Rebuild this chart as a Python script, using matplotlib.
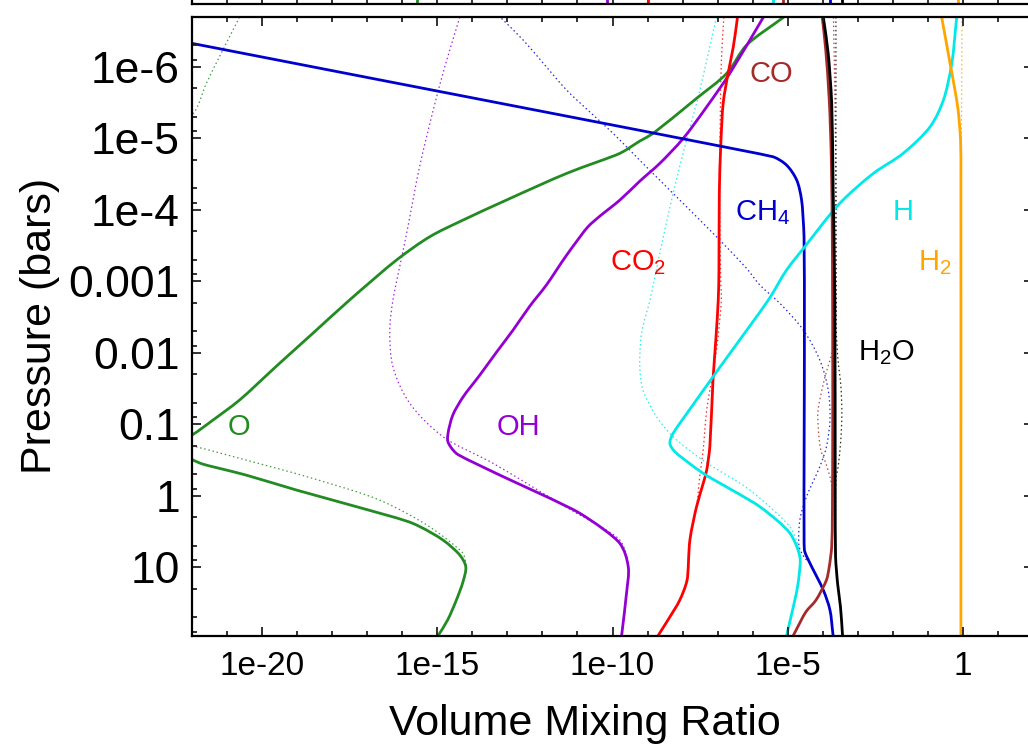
import numpy as np
import matplotlib
matplotlib.use('Agg')
import matplotlib.pyplot as plt
from matplotlib.ticker import FixedLocator, NullFormatter, FixedFormatter
from matplotlib.path import Path
from matplotlib.patches import PathPatch

plt.rcParams['font.family'] = ['Liberation Sans', 'DejaVu Sans']
plt.rcParams['mathtext.default'] = 'regular'

# ---------------- data (log10 pressure [bar], log10 volume mixing ratio) -------------
o_logp = [-6.693, -6.302, -5.906, -5.557, -5.067, -4.960, -4.788, -4.508, -4.135, -3.855,
          -3.622, -3.296, -2.737, -2.271, -1.852, -1.339, -1.059, -0.849, -0.70, -0.509,
          -0.443, -0.289, -0.081, 0.177, 0.386, 0.619, 0.829, 0.992, 1.203, 1.459, 1.738, 1.962]
o_logvmr = [-5.11, -6.17, -6.74, -7.60, -8.84, -9.22, -9.79, -11.31, -13.03, -14.27,
            -15.22, -16.17, -17.51, -18.56, -19.51, -20.65, -21.41, -22.01, -22.6, -22.01,
            -21.70, -20.46, -19.03, -17.13, -15.70, -14.84, -14.36, -14.19, -14.27, -14.46, -14.71, -14.99]
o_eq_logp = [-6.693, -6.232, -5.766, -5.323, -4.5, -1.0, -0.699, -0.499, -0.243, 0.060, 0.434,
             0.805, 0.992, 1.203, 1.459, 1.738, 1.962]
o_eq_logvmr = [-20.65, -21.13, -21.60, -22.01, -25.0, -25.0, -22.01, -20.46, -18.56, -16.65, -15.22,
               -14.27, -14.19, -14.27, -14.46, -14.71, -14.99]

oh_logp = [-6.693, -5.906, -5.439, -4.997, -4.648, -4.400, -4.135, -3.911, -3.757, -3.365, -2.946,
           -2.653, -2.317, -2.010, -1.688, -1.380, -1.129, -0.891, -0.756, -0.593, -0.313, 0.245,
           0.665, 0.992, 1.364, 1.956]
oh_logvmr = [-5.69, -6.65, -7.31, -7.98, -8.65, -9.22, -9.79, -10.36, -10.71, -11.31, -11.89,
             -12.36, -12.84, -13.31, -13.79, -14.27, -14.56, -14.69, -14.70, -14.46, -13.32, -10.93,
             -9.79, -9.55, -9.60, -9.74]
oh_eq_logp = [-6.693, -5.998, -5.393, -4.600, -3.669, -2.737, -2.317, -1.804, -1.293, -0.826,
              -0.454, 0.105, 0.618, 0.992, 1.364, 1.956]
oh_eq_logvmr = [-14.36, -14.79, -15.12, -15.51, -15.88, -16.27, -16.36, -16.27, -15.79, -14.84,
                -13.41, -11.51, -9.79, -9.55, -9.60, -9.74]

ch4_logp = [-6.326, -4.740, -4.624, -4.415, -4.135, -3.622, -2.0, 0.758, 0.944, 1.318, 1.597, 1.956]
ch4_logvmr = [-22.01, -5.41, -5.03, -4.74, -4.60, -4.53, -4.52, -4.52, -4.36, -3.98, -3.79, -3.70]
ch4_eq_logp = [-6.675, -6.372, -5.998, -5.673, -5.323, -5.067, -4.691, -4.228, -3.622, -3.180,
               -2.946, -2.691, -2.317, -1.898, -1.479, -1.059, -0.686, -0.406, 0.013, 0.339, 0.712,
               0.870, 0.944, 1.318, 1.597, 1.956]
ch4_eq_logvmr = [-13.17, -12.55, -11.89, -11.31, -10.55, -9.98, -9.22, -8.27, -7.03, -6.17,
                 -5.79, -5.22, -4.55, -4.08, -3.84, -3.79, -3.89, -4.08, -4.46, -4.65, -4.67,
                 -4.51, -4.36, -3.98, -3.79, -3.70]

co2_logp = [-6.693, -6.278, -5.906, -5.487, -4.880, -4.228, -3.156, -2.737, -2.178, -1.618, -0.686,
            -0.360, -0.173, 0.153, 0.619, 1.178, 1.459, 1.692, 1.956]
co2_logvmr = [-6.43, -6.55, -6.70, -6.84, -6.91, -6.95, -6.96, -6.98, -7.05, -7.13, -7.22,
              -7.31, -7.41, -7.60, -7.79, -7.87, -8.08, -8.36, -8.70]
co2_eq_logp = [-6.693, -6.092, -5.393, -4.135, -3.015, -2.737, -2.038, -1.199, -0.640, -0.266,
               0.153, 0.619, 1.178, 1.459, 1.692, 1.956]
co2_eq_logvmr = [-6.82, -6.89, -6.92, -6.94, -6.91, -6.89, -7.03, -7.31, -7.41, -7.51,
                 -7.60, -7.79, -7.87, -8.08, -8.36, -8.70]

co_logp = [-6.693, -6.232, -5.533, -4.694, -3.436, -1.339, 0.241, 0.712, 0.992, 1.178, 1.459, 1.625, 1.956]
co_logvmr = [-4.01, -3.91, -3.81, -3.75, -3.72, -3.71, -3.72, -3.74, -3.81, -3.89, -4.19, -4.48, -4.84]
co_eq_logp = [-6.693, -4.833, -2.317, -2.038, -1.646, -1.199, -0.919, -0.640, -0.430, -0.174,
              0.241, 0.712, 0.992, 1.178, 1.459, 1.625, 1.956]
co_eq_logvmr = [-3.69, -3.63, -3.63, -3.71, -3.94, -4.13, -4.12, -4.05, -3.89, -3.75,
                -3.72, -3.74, -3.81, -3.89, -4.19, -4.48, -4.84]

h2o_logp = [-6.693, -6.186, -5.487, -4.321, -2.737, -0.220, 0.852, 1.234, 1.551, 1.956]
h2o_logvmr = [-3.98, -3.84, -3.74, -3.70, -3.65, -3.64, -3.63, -3.57, -3.49, -3.43]
h2o_eq_logp = [-6.693, -2.317, -1.898, -1.549, -1.153, -0.780, -0.430, -0.220, 0.852, 1.234, 1.551, 1.956]
h2o_eq_logvmr = [-3.62, -3.61, -3.56, -3.48, -3.45, -3.48, -3.55, -3.62, -3.63, -3.57, -3.49, -3.43]

h_logp = [-6.693, -6.046, -5.533, -5.160, -4.788, -4.508, -4.089, -3.482, -3.156, -2.737, -1.664,
          -0.873, -0.733, -0.616, -0.314, 0.153, 0.525, 0.852, 1.108, 1.364, 1.956]
h_logvmr = [-0.17, -0.31, -0.55, -0.93, -1.70, -2.55, -3.51, -4.51, -5.03, -5.55, -7.13,
            -8.27, -8.36, -8.22, -7.41, -5.79, -4.93, -4.65, -4.67, -4.75, -5.03]
h_eq_logp = [-6.693, -5.579, -4.927, -4.228, -3.390, -2.737, -2.271, -1.804, -1.479, -1.105,
             -0.826, -0.476, -0.081, 0.434, 0.731, 0.852, 1.108, 1.364, 1.956]
h_eq_logvmr = [-7.03, -7.55, -7.91, -8.27, -8.65, -8.93, -9.17, -9.22, -9.13, -8.74,
               -8.27, -7.36, -6.08, -4.93, -4.67, -4.65, -4.67, -4.75, -5.03]

h2_logp = [-6.693, -6.372, -6.046, -5.673, -5.393, -4.974, -4.415, 1.956]
h2_logvmr = [-0.60, -0.48, -0.36, -0.22, -0.13, -0.06, -0.05, -0.05]
h2_eq_logp = [-6.693, -5.393, -4.415, 1.956]
h2_eq_logvmr = [-0.02, -0.03, -0.05, -0.05]

# bottom of the (cropped) panel above: mixing ratios of the same species
upper_logvmr = [-15.59, -10.17, -8.98, -5.41, -5.13, -3.79, -3.46, -0.13]

x_major = [1e-20, 1e-15, 1e-10, 1e-5, 1]
x_major_labels = ['1e-20', '1e-15', '1e-10', '1e-5', '1']
y_major = [1e-6, 1e-5, 1e-4, 1e-3, 1e-2, 1e-1, 1, 10]
y_major_labels = ['1e-6', '1e-5', '1e-4', '0.001', '0.01', '0.1', '1', '10']

labels = ['CO', 'CH$_4$', 'CO$_2$', 'H', 'H$_2$', 'H$_2$O', 'O', 'OH']
label_logvmr = [-6.08, -6.51, -10.08, -2.00, -1.28, -2.98, -20.98, -13.31]
label_logp = [-5.785, -3.855, -3.156, -3.855, -3.156, -1.898, -0.849, -0.849]

# ---------------- styling ----------------
GREEN = '#228B22'
PURPLE = '#9400D3'
BLUE = '#0000CD'
RED = '#FF0000'
BROWN = '#A52A2A'
BLACK = '#000000'
CYAN = '#00E8E8'
ORANGE = '#FFA500'
label_colors = [BROWN, BLUE, RED, CYAN, ORANGE, BLACK, GREEN, PURPLE]

W, H = 1028, 750
fig = plt.figure(figsize=(W / 100, H / 100), dpi=100)
L, R, T, B = 192.3, 1032.7, 16.7, 635.7
ax = fig.add_axes([L / W, 1 - B / H, (R - L) / W, (B - T) / H])
ax.set_xscale('log')
ax.set_yscale('log')

lw_solid = 2.0
lw_dot = 0.9
dot = (0, (1.2, 2.2))

# pixel-like weights of one decade on each axis (for smooth tangents)
SX, SY = 35.0, 71.5


def smooth_path(lx, ly):
    """Smooth curve through the points (log space), drawn as cubic Bezier segments."""
    pts = np.column_stack([np.asarray(lx, float) * SX, np.asarray(ly, float) * SY])
    n = len(pts)
    seg = np.diff(pts, axis=0)
    slen = np.hypot(seg[:, 0], seg[:, 1])
    unit = seg / slen[:, None]
    tang = np.zeros_like(pts)
    tang[0] = unit[0]
    tang[-1] = unit[-1]
    for i in range(1, n - 1):
        t = unit[i - 1] + unit[i]
        nt = np.hypot(*t)
        tang[i] = t / nt if nt > 1e-9 else unit[i]
    verts = [pts[0]]
    codes = [Path.MOVETO]
    for i in range(n - 1):
        l_prev = slen[i - 1] if i > 0 else slen[i]
        l_next = slen[i + 1] if i + 1 < n - 1 else slen[i]
        h1 = 0.33 * min(slen[i], l_prev) if i > 0 else 0.33 * slen[i]
        h2 = 0.33 * min(slen[i], l_next) if i + 1 < n - 1 else 0.33 * slen[i]
        c1 = pts[i] + tang[i] * h1
        c2 = pts[i + 1] - tang[i + 1] * h2
        verts += [c1, c2, pts[i + 1]]
        codes += [Path.CURVE4] * 3
    v = np.array(verts)
    v = np.column_stack([10.0 ** (v[:, 0] / SX), 10.0 ** (v[:, 1] / SY)])
    return Path(v, codes)


eq_sets = [(o_eq_logvmr, o_eq_logp, GREEN), (oh_eq_logvmr, oh_eq_logp, PURPLE),
           (ch4_eq_logvmr, ch4_eq_logp, BLUE), (co2_eq_logvmr, co2_eq_logp, RED),
           (h_eq_logvmr, h_eq_logp, CYAN), (co_eq_logvmr, co_eq_logp, BROWN),
           (h2o_eq_logvmr, h2o_eq_logp, BLACK), (h2_eq_logvmr, h2_eq_logp, ORANGE)]
for xv, yv, c in eq_sets:
    ax.add_patch(PathPatch(smooth_path(xv, yv), fill=False, edgecolor=c, lw=lw_dot,
                           ls=dot, alpha=0.85))

solid_sets = [(o_logvmr, o_logp, GREEN), (oh_logvmr, oh_logp, PURPLE),
              (co2_logvmr, co2_logp, RED), (ch4_logvmr, ch4_logp, BLUE),
              (h_logvmr, h_logp, CYAN), (co_logvmr, co_logp, BROWN),
              (h2o_logvmr, h2o_logp, BLACK), (h2_logvmr, h2_logp, ORANGE)]
for xv, yv, c in solid_sets:
    ax.add_patch(PathPatch(smooth_path(xv, yv), fill=False, edgecolor=c, lw=lw_solid,
                           joinstyle='round', capstyle='butt'))

ax.set_xlim(1e-22, 1e2)
ax.set_ylim(10 ** 1.956, 2e-7)

for txt, lx, ly, c in zip(labels, label_logvmr, label_logp, label_colors):
    ax.text(10 ** lx, 10 ** ly, txt, color=c, fontsize=21, ha='left', va='baseline')

# ticks
ax.xaxis.set_major_locator(FixedLocator(x_major))
ax.xaxis.set_major_formatter(FixedFormatter(x_major_labels))
ax.xaxis.set_minor_locator(FixedLocator([10.0 ** k for k in range(-22, 3)]))
ax.xaxis.set_minor_formatter(NullFormatter())
ax.yaxis.set_major_locator(FixedLocator(y_major))
ax.yaxis.set_major_formatter(FixedFormatter(y_major_labels))
yminor = [m * 10.0 ** k for k in range(-7, 2) for m in (2, 5, 8)]
ax.yaxis.set_minor_locator(FixedLocator(yminor))
ax.yaxis.set_minor_formatter(NullFormatter())
ax.tick_params(which='both', direction='in', top=True, right=True, width=1.3, color='#222222')
ax.tick_params(which='major', length=6.5)
ax.tick_params(which='minor', length=3.3)
ax.tick_params(axis='x', which='major', labelsize=24, pad=11)
ax.tick_params(axis='y', which='major', labelsize=32, pad=9)
for s in ax.spines.values():
    s.set_linewidth(1.6)

ax.set_xlabel('Volume Mixing Ratio', fontsize=31)
ax.xaxis.set_label_coords((585 - L) / (R - L), -(704 - B) / (B - T))
ax.set_ylabel('Pressure (bars)', fontsize=31, labelpad=6)

# sliver of the panel above (cropped)
axu = fig.add_axes([L / W, 1 - 3.5 / H, (R - L) / W, 0.2])
axu.set_xscale('log')
axu.set_xlim(1e-22, 1e2)
axu.set_ylim(0, 1)
axu.xaxis.set_major_locator(FixedLocator(x_major))
axu.xaxis.set_minor_locator(FixedLocator([10.0 ** k for k in range(-22, 3)]))
axu.xaxis.set_major_formatter(NullFormatter())
axu.xaxis.set_minor_formatter(NullFormatter())
axu.set_yticks([])
axu.tick_params(which='both', direction='in', top=False, width=1.3, color='#222222')
axu.tick_params(which='major', length=6.5)
axu.tick_params(which='minor', length=3.3)
for s in axu.spines.values():
    s.set_linewidth(1.6)
for v, c in zip(upper_logvmr, [GREEN, PURPLE, RED, CYAN, BROWN, BLUE, BLACK, ORANGE]):
    axu.plot([10 ** v, 10 ** v], [0, 0.2], color=c, lw=lw_solid)

fig.savefig('out.png', dpi=100)
